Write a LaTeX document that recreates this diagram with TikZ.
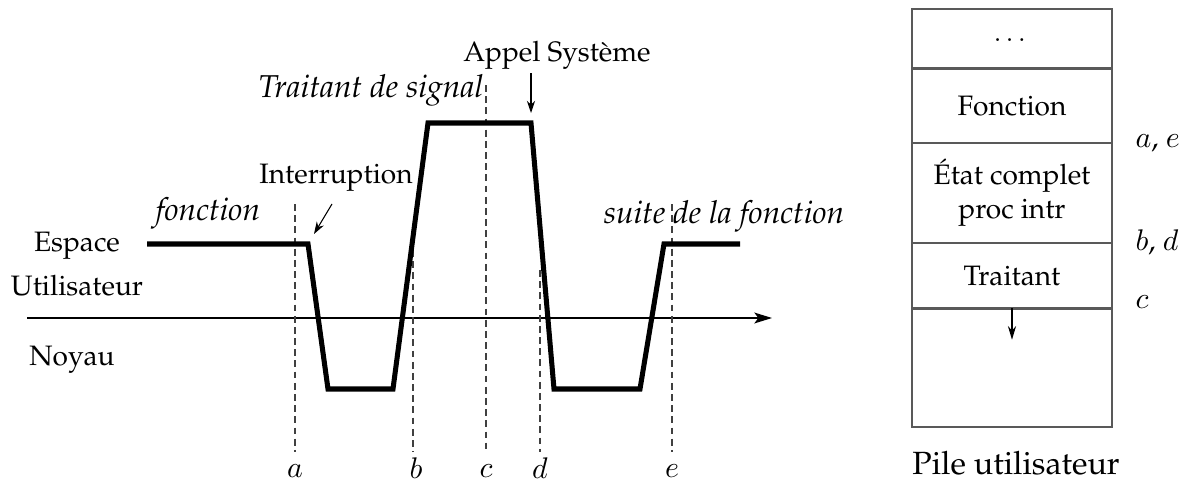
\documentclass[tikz,border=0pt]{standalone}
\usepackage[T1]{fontenc}
\usepackage{palatino}
\usepackage{amsmath}
\usepackage{tikz}
\usetikzlibrary{positioning}
\usetikzlibrary{arrows.meta}

\tikzset{
  trace/.style={line width=1.85pt,line join=miter},
  repere/.style={black!75,line width=0.4pt,dash pattern=on 2.5pt off 1.6pt},
  fleche/.style={-{Stealth[length=4.5pt,width=3pt]},line width=0.4pt},
  case/.style={draw=black!65,line width=0.45pt,minimum width=73.4pt,inner sep=0pt,align=center},
  lettre/.style={font=\fontsize{10.6}{13}\selectfont},
  grand/.style={font=\fontsize{11.8}{14}\selectfont},
  phase/.style={font=\fontsize{11.6}{14}\selectfont\itshape},
}

\begin{document}
\begin{tikzpicture}[x=0.3668pt,y=-0.3668pt,font=\fontsize{10.3}{12.5}\selectfont]
\useasboundingbox (0,0) rectangle (1184,482);

% axe utilisateur / noyau
\coordinate (ax0) at (27,318);
\coordinate (ax1) at (772,318);
\draw[-{Stealth[length=6.5pt,width=4pt,inset=1.5pt]},line width=0.45pt] (ax0) -- (ax1);

% instants
\foreach \n/\x/\y in {a/295/204, b/413/250, c/486/85, d/540/270, e/672/204}{
  \coordinate (h\n) at (\x,\y);
  \coordinate (l\n) at (\x,452);
  \draw[repere] (h\n) -- (l\n);
}
\node[lettre] (ta) at (295,471) {$a$};
\node[lettre] (tb) at (416,468) {$b$};
\node[lettre] (tc) at (486,471) {$c$};
\node[lettre] (td) at (540,468) {$d$};
\node[lettre] (te) at (672,471) {$e$};

% trajet de l'execution
\coordinate (p0) at (147,244);
\coordinate (p1) at (308,244);
\coordinate (p2) at (328,389);
\coordinate (p3) at (393,389);
\coordinate (p4) at (428,123);
\coordinate (p5) at (531,123);
\coordinate (p6) at (554,389);
\coordinate (p7) at (640,389);
\coordinate (p8) at (664,244);
\coordinate (p9) at (740,244);
\draw[trace] (p0) -- (p1) -- (p2) -- (p3) -- (p4) -- (p5) -- (p6) -- (p7) -- (p8) -- (p9);

\node (esp) at (77,246) {Espace};
\node (util) at (77,286) {Utilisateur};
\node (noy) at (72,360) {Noyau};
\node[phase] (fct) at (208,213) {fonction};
\node (intr) at (336,178) {Interruption};
\node[phase] (trt) at (371,90) {Traitant de signal};
\node (appel) at (557,55) {Appel Syst\`eme};
\node[phase] (suite) at (724,216) {suite de la fonction};

\coordinate (i0) at (332,204);
\coordinate (i1) at (314,234);
\draw[fleche] (i0) -- (i1);
\coordinate (s0) at (531,73);
\coordinate (s1) at (531,113);
\draw[fleche] (s0) -- (s1);

% pile utilisateur
\node[case,minimum height=21.6pt] (pa) at (1012,38.5) {\raisebox{-2.5pt}{$\dots$}};
\node[case,minimum height=26.8pt,below=0pt of pa] (pb) {Fonction};
\node[case,minimum height=36.3pt,below=0pt of pb] (pc) {\'Etat complet\\proc intr};
\node[case,minimum height=23.5pt,below=0pt of pc] (pd) {Traitant};
\node[case,minimum height=43.3pt,below=0pt of pd] (pe) {};

\coordinate (q0) at (pe.north);
\coordinate (q1) at ([yshift=-11.5pt]pe.north);
\draw[-{Stealth[length=5pt,width=3pt]},line width=0.4pt] (q0) -- (q1);

\node[lettre,anchor=west] (rae) at (1126,143) {$a$, $e$};
\node[lettre,anchor=west] (rbd) at (1126,243) {$b$, $d$};
\node[lettre,anchor=west] (rc) at (1126,302) {$c$};

\node[grand] (pile) at (1016,463) {Pile utilisateur};
\end{tikzpicture}
\end{document}
